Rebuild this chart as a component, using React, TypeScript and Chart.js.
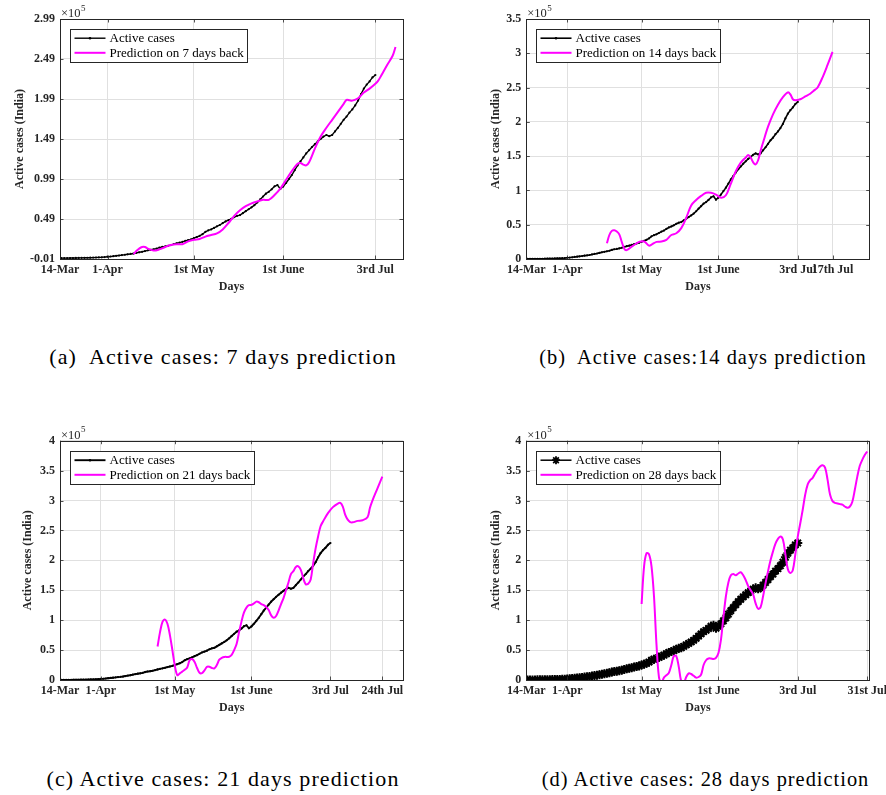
import React, { useEffect, useRef } from 'react';
import { Chart, registerables } from 'chart.js';

Chart.register(...registerables);

const FONT = '"Liberation Serif", "Times New Roman", serif';
const TEXT = '#262626';
const GRID = '#e0e0e0';
const MAGENTA = '#ff00ff';

// Active cases (India), daily from 14-Mar (day 0) to 3-Jul (day 111)
const activeCases = [
  84, 100, 110, 125, 140, 170, 215, 300, 360, 430, 520, 580, 650, 780, 880, 990, 1150, 1400,
  1850, 2100, 2500, 3000, 3400, 3850, 4300, 4900, 5300, 5800, 6600, 7400, 8000, 8900, 9800, 10500,
  11200, 12000, 13300, 14200, 14700, 15500, 16400, 17600, 18700, 19500, 20500, 21600, 22600, 23600,
  25100, 26500, 28000, 30000, 33000, 34800, 36000, 37900, 39900, 41500, 43900, 46000, 47500, 49100,
  51400, 53000, 53900, 56300, 58800, 61200, 63600, 66300, 69600, 73500, 77100, 80700, 83000, 86100,
  89900, 91500, 86500,
  89500, 94000, 99000, 104000, 110000, 116000, 121000, 126000, 131000, 135000, 139000, 142500, 146000,
  149000, 152000, 154000, 152500, 154000, 158500, 163000, 168000, 173000, 177000, 182000, 186000,
  191000, 197000, 205000, 212000, 217000, 221000, 226000, 229000,
];

// Prediction series (day since 14-Mar, active cases)
const predDaysA = [27, 28, 29, 30, 31, 32, 34, 36, 38, 40, 42, 44, 46, 48, 50, 52, 54, 56, 58, 60, 62, 64, 66, 68, 70, 72, 74, 76, 78, 80, 82, 84, 85, 86, 87, 88, 90, 92, 94, 96, 98, 100, 101, 102, 103, 105, 107, 109, 111, 112, 113, 115, 117, 118];
const predA = [5000, 9000, 12000, 14000, 14000, 12000, 9500, 11000, 14000, 16500, 17500, 17500, 21000, 23000, 24000, 27000, 29000, 31000, 36000, 44000, 53000, 60000, 65000, 68500, 71000, 73000, 73000, 79000, 87000, 98000, 109000, 118000, 119000, 117000, 116000, 120000, 137000, 152000, 163000, 173000, 183000, 193000, 198000, 197500, 197000, 200000, 207000, 212000, 218000, 222000, 228000, 241000, 253000, 264000];

const predDaysB = [34, 35, 36, 37, 38, 39, 40, 41, 42, 44, 46, 47, 49, 51, 52, 54, 56, 58, 60, 62, 64, 66, 68, 70, 72, 74, 76, 78, 80, 82, 84, 86, 88, 90, 91, 92, 93, 94, 95, 96, 97, 99, 101, 103, 105, 107, 108, 109, 110, 112, 114, 116, 118, 119, 121, 123, 125];
const predB = [23000, 35000, 41000, 42000, 40000, 36000, 25000, 15000, 13000, 18000, 23000, 25000, 25500, 19500, 21000, 25000, 25500, 28000, 35000, 37500, 45000, 60000, 78000, 86000, 92000, 96500, 96500, 94000, 89500, 93000, 110000, 128000, 140500, 148000, 151500, 148000, 141000, 138000, 144000, 158000, 170000, 193000, 211000, 225000, 236000, 243000, 240000, 233000, 231500, 233000, 237000, 241000, 247000, 250000, 265000, 283000, 302000];

const predDaysC = [41, 42, 43, 44, 45, 46, 47, 48, 49, 50, 51, 52, 53, 54, 55, 56, 57, 58, 59, 60, 61, 62, 63, 64, 65, 66, 67, 68, 70, 71, 72, 73, 74, 75, 76, 77, 78, 79, 80, 81, 82, 83, 84, 85, 86, 87, 88, 89, 90, 91, 92, 93, 94, 95, 96, 97, 98, 99, 100, 101, 102, 103, 104, 105, 106, 107, 108, 110, 112, 114, 115, 116, 117, 118, 119, 120, 122, 124, 126, 127, 128, 130, 132];
const predC = [56000, 80000, 97000, 101000, 94000, 75000, 50000, 24000, 8000, 11000, 14000, 17000, 21000, 33000, 35000, 30000, 20000, 12000, 11500, 16000, 22000, 22000, 20000, 19500, 25000, 34000, 37000, 38500, 39000, 42000, 50000, 60000, 80000, 98000, 113000, 121000, 125000, 125500, 128000, 131000, 130000, 127000, 125000, 122000, 117000, 108000, 104000, 107000, 116000, 127000, 137000, 150000, 163000, 177000, 182000, 189000, 190000, 184000, 170000, 160000, 161000, 168000, 195000, 220000, 240000, 257000, 265000, 279000, 289000, 295000, 296000, 290000, 276000, 268000, 264000, 263500, 266000, 267000, 272000, 288000, 300000, 320000, 340000];

const predDaysD = [48, 49, 50, 51, 52, 53, 54, 55, 56, 57, 58, 59, 60, 61, 62, 63, 64, 65, 66, 67, 68, 69, 70, 71, 72, 73, 74, 75, 76, 77, 78, 79, 80, 81, 82, 83, 84, 85, 86, 87, 88, 89, 90, 91, 92, 93, 94, 95, 96, 97, 98, 99, 100, 101, 102, 103, 104, 105, 106, 107, 108, 109, 110, 111, 112, 113, 114, 115, 116, 117, 118, 119, 120, 121, 122, 123, 124, 125, 126, 127, 128, 129, 130, 131, 132, 133, 134, 135, 136, 137, 138, 139];
const predD = [127000, 190000, 212000, 210000, 190000, 140000, 60000, 5000, -5000, 4000, 8000, 12000, 25000, 40000, 40000, 22000, -2000, -5000, 5000, 11000, 10000, 7000, 4000, 5000, 9000, 25000, 33000, 36000, 36000, 35000, 37000, 45000, 67000, 105000, 140000, 163000, 175000, 177000, 175000, 178000, 180000, 175000, 167000, 157000, 150000, 143000, 128000, 119000, 122000, 140000, 162000, 182000, 200000, 215000, 228000, 236000, 240000, 235000, 210000, 185000, 179000, 184000, 210000, 240000, 262000, 285000, 310000, 327000, 334000, 338000, 345000, 352000, 357000, 359000, 355000, 335000, 310000, 299000, 296000, 295000, 294000, 293000, 290000, 288000, 290000, 298000, 318000, 340000, 358000, 368000, 376000, 382000];

// Axis ticks
const xTicksA = [1.5, 18, 48, 79, 111];
const xLabelsA = ['14-Mar', '1-Apr', '1st May', '1st June', '3rd Jul'];
const xTicksB = [1.5, 18, 48, 79, 111, 125];
const xLabelsB = ['14-Mar', '1-Apr', '1st May', '1st June', '3rd Jul', '17th Jul'];
const xTicksC = [1.5, 18, 48, 79, 111, 132];
const xLabelsC = ['14-Mar', '1-Apr', '1st May', '1st June', '3rd Jul', '24th Jul'];
const xTicksD = [1.5, 18, 48, 79, 111, 139];
const xLabelsD = ['14-Mar', '1-Apr', '1st May', '1st June', '3rd Jul', '31st Jul'];

const yTicksA = [-1000, 49000, 99000, 149000, 199000, 249000, 299000];
const yTicksB = [0, 50000, 100000, 150000, 200000, 250000, 300000, 350000];
const yTicksCD = [0, 50000, 100000, 150000, 200000, 250000, 300000, 350000, 400000];

const activeLabel = 'Active cases';
const predLabels = ['Prediction on 7 days back', 'Prediction on 14 days back', 'Prediction on 21 days back', 'Prediction on 28 days back'];
const captions = ['(a)  Active cases: 7 days prediction', '(b)  Active cases:14 days prediction', '(c) Active cases: 21 days prediction', '(d) Active cases: 28 days prediction'];

const W = 443;
const H = 300;

type Panel = {
  cx: number; cy: number;
  caLeft: number; caTop: number; caRight: number; caBottom: number;
  xMin: number; xMax: number; xTicks: number[]; xLabels: string[];
  yMin: number; yMax: number; yTicks: number[]; yFmt: (v: number) => string;
  predDays: number[]; pred: number[]; predLabel: string;
  star: boolean; activeWidth: number;
  yTitleX: number; daysY: number;
  caption: string; capX: number; capY: number; capSize: number; capSpacing: number;
};

const fmt2 = (v: number) => (v / 1e5).toFixed(2);
const fmtN = (v: number) => String(v / 1e5);

const panels: Panel[] = [
  {
    cx: 0, cy: 0, caLeft: 60, caTop: 19, caRight: 403, caBottom: 259,
    xMin: 1.5, xMax: 120.6, xTicks: xTicksA, xLabels: xLabelsA,
    yMin: -1000, yMax: 299000, yTicks: yTicksA, yFmt: fmt2,
    predDays: predDaysA, pred: predA, predLabel: predLabels[0],
    star: false, activeWidth: 1.4, yTitleX: 20, daysY: 286.7,
    caption: captions[0], capX: 223, capY: 357, capSize: 22, capSpacing: 1.1,
  },
  {
    cx: 443, cy: 0, caLeft: 83.3, caTop: 19, caRight: 426.7, caBottom: 259,
    xMin: 1.5, xMax: 140, xTicks: xTicksB, xLabels: xLabelsB,
    yMin: 0, yMax: 350000, yTicks: yTicksB, yFmt: fmtN,
    predDays: predDaysB, pred: predB, predLabel: predLabels[1],
    star: false, activeWidth: 1.6, yTitleX: 53, daysY: 286.7,
    caption: captions[1], capX: 260, capY: 357, capSize: 20.4, capSpacing: 1.0,
  },
  {
    cx: 0, cy: 420, caLeft: 60, caTop: 20.7, caRight: 403.3, caBottom: 260,
    xMin: 1.5, xMax: 140.5, xTicks: xTicksC, xLabels: xLabelsC,
    yMin: 0, yMax: 400000, yTicks: yTicksCD, yFmt: fmtN,
    predDays: predDaysC, pred: predC, predLabel: predLabels[2],
    star: false, activeWidth: 1.9, yTitleX: 28, daysY: 288.3,
    caption: captions[2], capX: 223, capY: 359, capSize: 22, capSpacing: 1.1,
  },
  {
    cx: 443, cy: 420, caLeft: 83.3, caTop: 20.7, caRight: 426.7, caBottom: 260,
    xMin: 1.5, xMax: 140, xTicks: xTicksD, xLabels: xLabelsD,
    yMin: 0, yMax: 400000, yTicks: yTicksCD, yFmt: fmtN,
    predDays: predDaysD, pred: predD, predLabel: predLabels[3],
    star: true, activeWidth: 1.5, yTitleX: 53, daysY: 288.3,
    caption: captions[3], capX: 262.5, capY: 359, capSize: 20.4, capSpacing: 1.0,
  },
];

function drawStar(ctx: CanvasRenderingContext2D, x: number, y: number, r: number) {
  ctx.beginPath();
  for (let k = 0; k < 4; k++) {
    const a = (k * Math.PI) / 4;
    ctx.moveTo(x - r * Math.cos(a), y - r * Math.sin(a));
    ctx.lineTo(x + r * Math.cos(a), y + r * Math.sin(a));
  }
  ctx.stroke();
}

function makeConfig(p: Panel): any {
  const decor = {
    id: 'decor',
    afterDraw(chart: any) {
      const { ctx, chartArea: ca, scales } = chart;
      ctx.save();
      // inward ticks
      ctx.strokeStyle = TEXT;
      ctx.lineWidth = 0.8;
      ctx.beginPath();
      p.xTicks.forEach((v) => {
        const x = Math.round(scales.x.getPixelForValue(v)) + 0.5;
        ctx.moveTo(x, ca.bottom); ctx.lineTo(x, ca.bottom - 3.5);
        ctx.moveTo(x, ca.top); ctx.lineTo(x, ca.top + 3.5);
      });
      p.yTicks.forEach((v) => {
        const y = Math.round(scales.y.getPixelForValue(v)) + 0.5;
        ctx.moveTo(ca.left, y); ctx.lineTo(ca.left + 3.5, y);
        ctx.moveTo(ca.right, y); ctx.lineTo(ca.right - 3.5, y);
      });
      ctx.stroke();
      // box
      ctx.lineWidth = 1;
      ctx.strokeRect(Math.round(ca.left) + 0.5, Math.round(ca.top) + 0.5, Math.round(ca.right - ca.left), Math.round(ca.bottom - ca.top));

      // legend
      ctx.font = `13px ${FONT}`;
      const labels = [activeLabel, p.predLabel];
      const tw = Math.max(...labels.map((l) => ctx.measureText(l).width));
      const bx = Math.round(ca.left + 10) + 0.5;
      const by = Math.round(ca.top + 10) + 0.5;
      const bw = Math.round(39 + tw + 4);
      const bh = 33;
      ctx.fillStyle = '#ffffff';
      ctx.fillRect(bx, by, bw, bh);
      ctx.strokeStyle = TEXT;
      ctx.lineWidth = 1;
      ctx.strokeRect(bx, by, bw, bh);
      const rows = [by + 8.7, by + 23.3];
      // active sample
      ctx.strokeStyle = '#000';
      ctx.lineWidth = p.activeWidth;
      ctx.beginPath(); ctx.moveTo(bx + 4, rows[0]); ctx.lineTo(bx + 35, rows[0]); ctx.stroke();
      if (p.star) {
        ctx.lineWidth = 1.8;
        drawStar(ctx, bx + 19.5, rows[0], 4);
      } else {
        ctx.fillStyle = '#000';
        ctx.beginPath(); ctx.arc(bx + 19.5, rows[0], 1.3, 0, Math.PI * 2); ctx.fill();
      }
      ctx.strokeStyle = MAGENTA;
      ctx.lineWidth = 2;
      ctx.beginPath(); ctx.moveTo(bx + 4, rows[1]); ctx.lineTo(bx + 35, rows[1]); ctx.stroke();
      ctx.fillStyle = '#000';
      ctx.textAlign = 'left';
      ctx.textBaseline = 'middle';
      ctx.fillText(labels[0], bx + 39, rows[0] + 0.5);
      ctx.fillText(labels[1], bx + 39, rows[1] + 0.5);

      // exponent label
      ctx.fillStyle = TEXT;
      ctx.textBaseline = 'alphabetic';
      ctx.font = `12.5px ${FONT}`;
      ctx.fillText('\u00d710', ca.left + 1, ca.top - 2);
      const w = ctx.measureText('\u00d710').width;
      ctx.font = `9px ${FONT}`;
      ctx.fillText('5', ca.left + 1.5 + w, ca.top - 8.5);
      ctx.restore();
    },
  };

  const boldFont = { family: FONT, size: 12, weight: 'bold' as const };

  return {
    type: 'line',
    data: {
      datasets: [
        {
          label: activeLabel,
          data: activeCases.map((v, i) => ({ x: i, y: v })),
          borderColor: '#000',
          backgroundColor: '#000',
          borderWidth: p.activeWidth,
          pointStyle: p.star ? 'star' : 'circle',
          pointRadius: p.star ? 4.5 : 1.1,
          pointBorderWidth: p.star ? 2 : 0,
          pointBackgroundColor: '#000',
          pointBorderColor: '#000',
          tension: 0,
          order: 2,
        },
        {
          label: p.predLabel,
          data: p.predDays.map((d, i) => ({ x: d, y: p.pred[i] })),
          borderColor: MAGENTA,
          backgroundColor: MAGENTA,
          borderWidth: 2,
          pointRadius: 0,
          tension: 0.35,
          order: 1,
        },
      ],
    },
    options: {
      animation: false,
      responsive: false,
      maintainAspectRatio: false,
      events: [],
      layout: { padding: { left: 0, top: p.caTop, right: W - p.caRight, bottom: 0 } },
      plugins: { legend: { display: false }, tooltip: { enabled: false }, title: { display: false } },
      scales: {
        x: {
          type: 'linear',
          min: p.xMin,
          max: p.xMax,
          afterBuildTicks: (s: any) => { s.ticks = p.xTicks.map((v) => ({ value: v })); },
          afterFit: (s: any) => { s.height = H - p.caBottom; s.paddingLeft = 0; s.paddingRight = 0; },
          ticks: {
            autoSkip: false, maxRotation: 0, minRotation: 0, padding: 4, color: TEXT, font: boldFont,
            callback: (_v: any, i: number) => p.xLabels[i],
          },
          grid: { color: GRID, lineWidth: 1, drawTicks: false },
          border: { display: false },
          title: { display: true, text: 'Days', color: TEXT, font: boldFont, padding: { top: 0, bottom: H - p.daysY - 7.2 } },
        },
        y: {
          type: 'linear',
          min: p.yMin,
          max: p.yMax,
          afterBuildTicks: (s: any) => { s.ticks = p.yTicks.map((v) => ({ value: v })); },
          afterFit: (s: any) => { s.width = p.caLeft; s.paddingTop = 0; s.paddingBottom = 0; },
          ticks: {
            autoSkip: false, padding: 5, color: TEXT, font: boldFont,
            callback: (v: any) => p.yFmt(Number(v)),
          },
          grid: { color: GRID, lineWidth: 1, drawTicks: false },
          border: { display: false },
          title: { display: true, text: 'Active cases (India)', color: TEXT, font: boldFont, padding: { top: p.yTitleX - 7.2, bottom: 0 } },
        },
      },
    },
    plugins: [decor],
  };
}

function PanelChart({ p }: { p: Panel }) {
  const ref = useRef<HTMLCanvasElement>(null);
  useEffect(() => {
    const chart = new Chart(ref.current as HTMLCanvasElement, makeConfig(p));
    return () => chart.destroy();
  }, [p]);
  return (
    <div style={{ position: 'absolute', left: p.cx, top: p.cy, width: W, height: 420 }}>
      <canvas ref={ref} width={W} height={H} style={{ position: 'absolute', left: 0, top: 0, width: W, height: H }} />
      <div
        style={{
          position: 'absolute', left: p.capX, top: p.capY - 13, transform: 'translateX(-50%)',
          whiteSpace: 'pre', fontFamily: FONT, fontSize: p.capSize, letterSpacing: `${p.capSpacing}px`, lineHeight: '26px', color: '#000',
        }}
      >
        {p.caption}
      </div>
    </div>
  );
}

export default function App() {
  return (
    <div style={{ position: 'absolute', left: 0, top: 0, width: 886, height: 795, background: '#fff', overflow: 'hidden' }}>
      {panels.map((p, i) => (
        <PanelChart key={i} p={p} />
      ))}
    </div>
  );
}
